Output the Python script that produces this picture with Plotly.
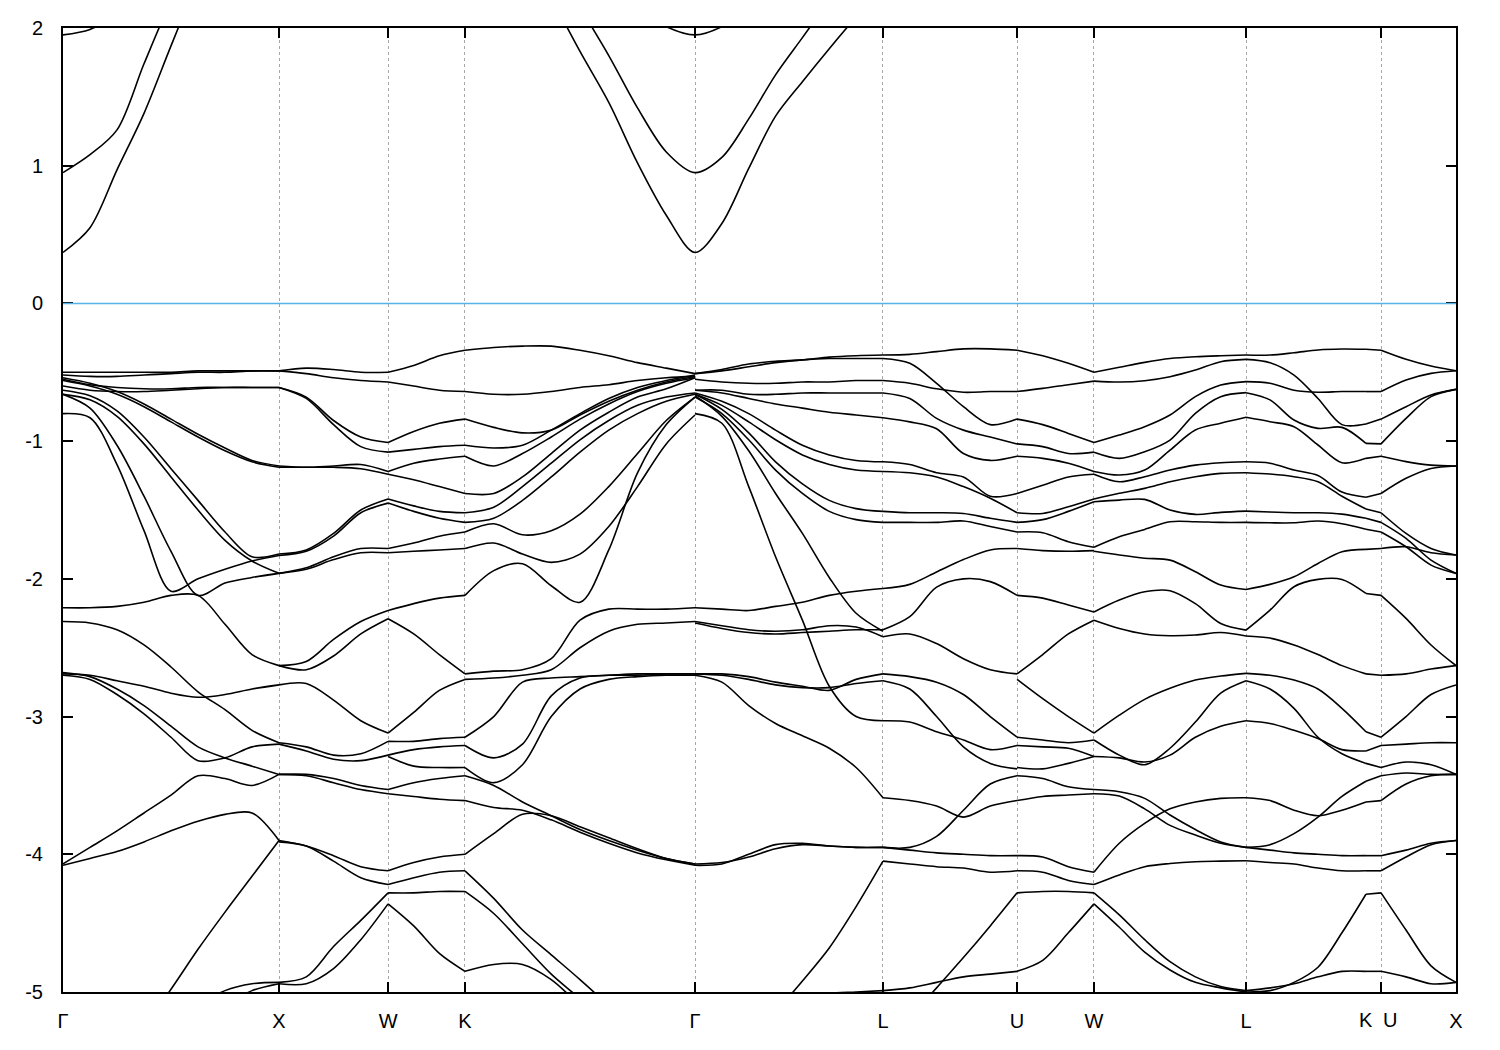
import numpy as np
import plotly.graph_objects as go

# High-symmetry path
LABELS = ["Γ", "X", "W", "K", "Γ", "L", "U", "W", "L", "K", "U", "X"]
K_POS = [0.0, 1.0, 1.505, 1.861, 2.926, 3.796, 4.417, 4.773, 5.477, 6.032, 6.102, 6.449]
# where the K / U labels near the end of the path are printed (they sit side by side)
LABEL_POS = {9: 6.032, 10: 6.144}
NO_TICK = [9]          # the second K label has no tick / grid line of its own
Y_TICKS = [-5, -4, -3, -2, -1, 0, 1, 2]

# Band energies (eV), one list per path segment.
# Each row = energies at equally spaced k-points along that segment.
VB_GX = [
    [-0.50, -0.50, -0.50, -0.50, -0.50, -0.49, -0.49, -0.49, -0.49],
    [-0.52, -0.53, -0.53, -0.52, -0.51, -0.50, -0.50, -0.49, -0.49],
    [-0.55, -0.59, -0.61, -0.62, -0.62, -0.61, -0.61, -0.61, -0.61],
    [-0.60, -0.63, -0.64, -0.64, -0.63, -0.62, -0.61, -0.61, -0.61],
    [-0.54, -0.58, -0.64, -0.73, -0.84, -0.95, -1.05, -1.14, -1.18],
    [-0.56, -0.60, -0.66, -0.75, -0.86, -0.97, -1.07, -1.15, -1.19],
    [-0.63, -0.67, -0.78, -0.97, -1.20, -1.43, -1.66, -1.84, -1.82],
    [-0.66, -0.70, -0.82, -1.02, -1.26, -1.50, -1.72, -1.87, -1.96],
    [-0.80, -0.83, -1.17, -1.65, -2.09, -2.00, -1.93, -1.87, -1.83],
    [-0.66, -0.76, -1.03, -1.40, -1.80, -2.12, -2.03, -1.99, -1.96],
    [-2.21, -2.21, -2.20, -2.17, -2.12, -2.12, -2.33, -2.55, -2.63],
    [-2.31, -2.32, -2.37, -2.48, -2.64, -2.82, -2.95, -3.10, -3.19],
    [-2.69, -2.70, -2.74, -2.78, -2.83, -2.86, -2.84, -2.80, -2.77],
    [-2.70, -2.73, -2.84, -2.98, -3.15, -3.32, -3.30, -3.22, -3.20],
    [-2.68, -2.71, -2.80, -2.92, -3.07, -3.22, -3.30, -3.36, -3.42],
    [-4.07, -3.95, -3.83, -3.70, -3.57, -3.43, -3.45, -3.50, -3.42],
    [-4.08, -4.03, -3.98, -3.91, -3.83, -3.76, -3.71, -3.70, -3.90],
    [-5.80, -5.65, -5.45, -5.25, -4.98, -4.69, -4.42, -4.16, -3.90],
    [-6.00, -5.80, -5.60, -5.40, -5.25, -5.10, -4.99, -4.94, -4.93],
    [-6.10, -5.90, -5.70, -5.50, -5.35, -5.20, -5.10, -4.99, -4.94],
]

VB_XW = [
    [-0.49, -0.47, -0.48, -0.50, -0.50],
    [-0.49, -0.51, -0.54, -0.56, -0.57],
    [-0.61, -0.68, -0.85, -0.97, -1.01],
    [-0.61, -0.69, -0.88, -1.04, -1.08],
    [-1.18, -1.19, -1.18, -1.17, -1.22],
    [-1.19, -1.19, -1.19, -1.20, -1.24],
    [-1.82, -1.79, -1.67, -1.50, -1.42],
    [-1.83, -1.80, -1.69, -1.52, -1.45],
    [-1.96, -1.92, -1.84, -1.78, -1.78],
    [-1.96, -1.93, -1.86, -1.81, -1.81],
    [-2.63, -2.60, -2.44, -2.31, -2.23],
    [-2.63, -2.66, -2.56, -2.40, -2.29],
    [-2.77, -2.76, -2.88, -3.03, -3.12],
    [-3.19, -3.22, -3.28, -3.27, -3.18],
    [-3.20, -3.25, -3.31, -3.32, -3.28],
    [-3.42, -3.42, -3.45, -3.50, -3.53],
    [-3.42, -3.43, -3.48, -3.53, -3.56],
    [-3.90, -3.94, -4.01, -4.09, -4.12],
    [-3.91, -3.94, -4.05, -4.17, -4.22],
    [-4.93, -4.89, -4.67, -4.48, -4.28],
    [-4.94, -4.94, -4.83, -4.62, -4.36],
]

VB_WK = [
    [-0.50, -0.45, -0.38, -0.34],
    [-0.57, -0.60, -0.63, -0.64],
    [-1.01, -0.93, -0.87, -0.84],
    [-1.08, -1.06, -1.04, -1.03],
    [-1.22, -1.16, -1.13, -1.11],
    [-1.24, -1.28, -1.33, -1.38],
    [-1.42, -1.47, -1.51, -1.52],
    [-1.45, -1.51, -1.56, -1.59],
    [-1.78, -1.74, -1.69, -1.66],
    [-1.81, -1.80, -1.79, -1.78],
    [-2.23, -2.18, -2.14, -2.12],
    [-2.29, -2.40, -2.55, -2.69],
    [-3.12, -2.97, -2.81, -2.73],
    [-3.18, -3.18, -3.16, -3.15],
    [-3.28, -3.24, -3.22, -3.21],
    [-3.29, -3.36, -3.37, -3.37],
    [-3.53, -3.48, -3.45, -3.43],
    [-3.56, -3.58, -3.60, -3.61],
    [-4.12, -4.06, -4.02, -4.00],
    [-4.22, -4.17, -4.13, -4.12],
    [-4.28, -4.28, -4.27, -4.27],
    [-4.36, -4.52, -4.72, -4.85],
]

VB_KG = [
    [-0.34, -0.32, -0.31, -0.31, -0.34, -0.38, -0.43, -0.47, -0.51],
    [-0.64, -0.66, -0.66, -0.64, -0.61, -0.59, -0.56, -0.54, -0.53],
    [-0.84, -0.90, -0.94, -0.92, -0.81, -0.71, -0.63, -0.57, -0.53],
    [-1.03, -1.05, -1.03, -0.92, -0.80, -0.69, -0.61, -0.56, -0.52],
    [-1.11, -1.18, -1.09, -0.97, -0.84, -0.73, -0.64, -0.58, -0.54],
    [-1.38, -1.38, -1.26, -1.09, -0.92, -0.79, -0.68, -0.62, -0.54],
    [-1.52, -1.48, -1.33, -1.16, -0.99, -0.85, -0.74, -0.68, -0.65],
    [-1.59, -1.56, -1.43, -1.26, -1.08, -0.92, -0.80, -0.71, -0.66],
    [-1.66, -1.60, -1.68, -1.65, -1.53, -1.33, -1.09, -0.85, -0.68],
    [-1.78, -1.74, -1.82, -1.88, -1.82, -1.62, -1.33, -1.02, -0.81],
    [-2.12, -1.94, -1.89, -2.05, -2.17, -1.79, -1.23, -0.88, -0.68],
    [-2.69, -2.67, -2.66, -2.58, -2.30, -2.22, -2.22, -2.22, -2.21],
    [-2.73, -2.72, -2.70, -2.66, -2.50, -2.38, -2.33, -2.32, -2.31],
    [-3.15, -3.00, -2.75, -2.72, -2.71, -2.70, -2.69, -2.69, -2.69],
    [-3.21, -3.30, -3.20, -2.85, -2.72, -2.70, -2.70, -2.69, -2.69],
    [-3.37, -3.48, -3.35, -3.00, -2.80, -2.73, -2.71, -2.70, -2.70],
    [-3.43, -3.50, -3.62, -3.72, -3.82, -3.90, -3.97, -4.03, -4.07],
    [-3.61, -3.66, -3.68, -3.75, -3.84, -3.92, -3.99, -4.04, -4.08],
    [-4.00, -3.85, -3.71, -3.72, -3.80, -3.88, -3.96, -4.03, -4.07],
    [-4.12, -4.32, -4.55, -4.73, -4.91, -5.10, -5.30, -5.50, -5.60],
    [-4.27, -4.43, -4.65, -4.87, -5.05, -5.25, -5.40, -5.50, -5.60],
    [-4.85, -4.80, -4.80, -4.91, -5.10, -5.30, -5.40, -5.50, -5.60],
]

VB_GL = [
    [-0.51, -0.49, -0.46, -0.43, -0.41, -0.40, -0.40, -0.40],
    [-0.51, -0.48, -0.44, -0.42, -0.41, -0.39, -0.38, -0.375],
    [-0.55, -0.57, -0.58, -0.58, -0.57, -0.57, -0.56, -0.56],
    [-0.63, -0.63, -0.66, -0.66, -0.65, -0.65, -0.65, -0.65],
    [-0.63, -0.65, -0.69, -0.73, -0.76, -0.79, -0.81, -0.83],
    [-0.65, -0.71, -0.80, -0.92, -1.03, -1.10, -1.14, -1.15],
    [-0.66, -0.74, -0.86, -0.99, -1.10, -1.17, -1.21, -1.22],
    [-0.66, -0.77, -0.94, -1.15, -1.31, -1.43, -1.49, -1.51],
    [-0.68, -0.80, -0.99, -1.21, -1.38, -1.51, -1.57, -1.59],
    [-0.67, -0.82, -1.07, -1.38, -1.67, -1.99, -2.25, -2.38],
    [-0.80, -0.87, -1.33, -1.84, -2.30, -2.78, -3.00, -3.03],
    [-2.21, -2.22, -2.23, -2.20, -2.17, -2.12, -2.09, -2.07],
    [-2.31, -2.34, -2.37, -2.38, -2.37, -2.34, -2.35, -2.42],
    [-2.32, -2.36, -2.39, -2.40, -2.39, -2.38, -2.37, -2.37],
    [-2.69, -2.69, -2.71, -2.75, -2.78, -2.81, -2.73, -2.69],
    [-2.69, -2.70, -2.73, -2.77, -2.79, -2.79, -2.76, -2.74],
    [-2.70, -2.75, -2.92, -3.05, -3.14, -3.23, -3.37, -3.59],
    [-4.08, -4.07, -4.00, -3.93, -3.92, -3.94, -3.95, -3.95],
    [-4.07, -4.06, -4.02, -3.96, -3.93, -3.94, -3.95, -3.95],
    [-5.90, -5.70, -5.40, -5.15, -4.92, -4.68, -4.38, -4.05],
    [-5.40, -5.30, -5.20, -5.10, -5.05, -5.01, -5.00, -4.99],
]

VB_LU = [
    [-0.375, -0.37, -0.35, -0.33, -0.33, -0.34],
    [-0.40, -0.435, -0.58, -0.75, -0.88, -0.84],
    [-0.56, -0.58, -0.62, -0.645, -0.64, -0.64],
    [-0.65, -0.69, -0.835, -0.92, -0.97, -1.02],
    [-0.83, -0.86, -0.91, -1.09, -1.14, -1.11],
    [-1.15, -1.17, -1.23, -1.26, -1.40, -1.38],
    [-1.22, -1.23, -1.26, -1.33, -1.415, -1.52],
    [-1.51, -1.52, -1.52, -1.525, -1.56, -1.59],
    [-1.59, -1.59, -1.59, -1.58, -1.62, -1.66],
    [-2.07, -2.04, -1.95, -1.86, -1.79, -1.78],
    [-2.37, -2.275, -2.06, -2.00, -2.02, -2.12],
    [-2.42, -2.40, -2.47, -2.58, -2.66, -2.69],
    [-2.69, -2.71, -2.75, -2.84, -3.00, -3.15],
    [-2.74, -2.80, -3.00, -3.22, -3.34, -3.38],
    [-3.03, -3.04, -3.11, -3.17, -3.24, -3.21],
    [-3.59, -3.61, -3.65, -3.73, -3.65, -3.61],
    [-3.95, -3.95, -3.87, -3.68, -3.49, -3.43],
    [-3.95, -3.97, -3.99, -4.00, -4.01, -4.01],
    [-4.05, -4.07, -4.09, -4.10, -4.13, -4.12],
    [-5.60, -5.20, -4.97, -4.75, -4.52, -4.28],
    [-4.99, -4.97, -4.93, -4.89, -4.87, -4.85],
]

VB_UW = [
    [-0.34, -0.38, -0.435, -0.50],
    [-0.64, -0.617, -0.59, -0.564],
    [-0.84, -0.88, -0.944, -1.01],
    [-1.02, -1.04, -1.09, -1.08],
    [-1.11, -1.125, -1.16, -1.22],
    [-1.38, -1.32, -1.26, -1.24],
    [-1.52, -1.525, -1.476, -1.42],
    [-1.59, -1.57, -1.51, -1.44],
    [-1.66, -1.665, -1.73, -1.77],
    [-1.78, -1.795, -1.80, -1.795],
    [-2.12, -2.14, -2.19, -2.24],
    [-2.69, -2.55, -2.40, -2.30],
    [-2.73, -2.87, -3.00, -3.12],
    [-3.15, -3.17, -3.19, -3.17],
    [-3.21, -3.22, -3.23, -3.29],
    [-3.37, -3.38, -3.34, -3.29],
    [-3.43, -3.45, -3.51, -3.53],
    [-3.61, -3.58, -3.57, -3.56],
    [-4.01, -4.02, -4.09, -4.13],
    [-4.12, -4.13, -4.19, -4.22],
    [-4.28, -4.27, -4.27, -4.28],
    [-4.85, -4.77, -4.57, -4.36],
]

VB_WL = [
    [-0.50, -0.464, -0.428, -0.40, -0.387, -0.38, -0.375],
    [-0.564, -0.571, -0.561, -0.532, -0.484, -0.423, -0.406],
    [-1.01, -0.956, -0.895, -0.81, -0.677, -0.593, -0.568],
    [-1.08, -1.125, -1.077, -0.992, -0.798, -0.677, -0.648],
    [-1.22, -1.246, -1.21, -1.065, -0.919, -0.87, -0.827],
    [-1.24, -1.295, -1.258, -1.21, -1.174, -1.157, -1.15],
    [-1.42, -1.379, -1.343, -1.295, -1.258, -1.234, -1.229],
    [-1.44, -1.428, -1.423, -1.50, -1.532, -1.517, -1.508],
    [-1.77, -1.694, -1.641, -1.585, -1.585, -1.59, -1.59],
    [-1.80, -1.827, -1.85, -1.864, -1.948, -2.045, -2.077],
    [-2.24, -2.154, -2.094, -2.086, -2.18, -2.324, -2.372],
    [-2.30, -2.36, -2.40, -2.413, -2.408, -2.39, -2.415],
    [-3.12, -2.99, -2.875, -2.795, -2.735, -2.706, -2.686],
    [-3.17, -3.28, -3.35, -3.23, -3.04, -2.83, -2.74],
    [-3.29, -3.30, -3.33, -3.28, -3.15, -3.07, -3.03],
    [-3.53, -3.546, -3.594, -3.715, -3.82, -3.91, -3.95],
    [-3.56, -3.577, -3.67, -3.79, -3.86, -3.92, -3.95],
    [-4.13, -3.92, -3.776, -3.67, -3.62, -3.594, -3.59],
    [-4.22, -4.15, -4.09, -4.067, -4.054, -4.05, -4.047],
    [-4.28, -4.44, -4.62, -4.78, -4.89, -4.96, -4.99],
    [-4.36, -4.53, -4.71, -4.84, -4.93, -4.97, -5.00],
]

VB_LK = [
    [-0.375, -0.375, -0.358, -0.338, -0.331, -0.333],
    [-0.406, -0.43, -0.52, -0.69, -0.88, -0.876],
    [-0.568, -0.58, -0.63, -0.645, -0.64, -0.64],
    [-0.648, -0.70, -0.847, -0.907, -0.90, -1.016],
    [-0.827, -0.859, -0.895, -1.028, -1.157, -1.125],
    [-1.15, -1.16, -1.21, -1.25, -1.37, -1.408],
    [-1.229, -1.239, -1.258, -1.295, -1.40, -1.493],
    [-1.508, -1.515, -1.52, -1.52, -1.53, -1.56],
    [-1.59, -1.593, -1.593, -1.58, -1.60, -1.64],
    [-2.077, -2.04, -1.985, -1.888, -1.803, -1.786],
    [-2.372, -2.227, -2.057, -2.004, -2.004, -2.106],
    [-2.415, -2.43, -2.48, -2.55, -2.63, -2.69],
    [-2.686, -2.70, -2.735, -2.80, -2.94, -3.11],
    [-2.74, -2.80, -2.94, -3.15, -3.27, -3.34],
    [-3.03, -3.05, -3.10, -3.16, -3.24, -3.25],
    [-3.59, -3.61, -3.68, -3.72, -3.68, -3.62],
    [-3.95, -3.93, -3.85, -3.73, -3.58, -3.47],
    [-3.95, -3.97, -3.99, -4.00, -4.01, -4.01],
    [-4.047, -4.06, -4.07, -4.10, -4.12, -4.12],
    [-4.99, -4.97, -4.94, -4.89, -4.85, -4.85],
    [-5.00, -4.99, -4.93, -4.82, -4.57, -4.29],
]

VB_KU = [
    [-0.333, -0.34], [-0.876, -0.84], [-0.64, -0.64], [-1.016, -1.02],
    [-1.125, -1.11], [-1.408, -1.38], [-1.493, -1.52], [-1.56, -1.59],
    [-1.64, -1.66], [-1.786, -1.78], [-2.106, -2.12], [-2.69, -2.70],
    [-3.11, -3.15], [-3.34, -3.37], [-3.25, -3.21], [-3.62, -3.61],
    [-3.47, -3.43], [-4.01, -4.01], [-4.12, -4.12], [-4.85, -4.85],
    [-4.29, -4.28],
]

VB_UX = [
    [-0.34, -0.406, -0.455, -0.489],
    [-0.64, -0.556, -0.508, -0.489],
    [-0.84, -0.75, -0.665, -0.624],
    [-1.02, -0.835, -0.677, -0.624],
    [-1.11, -1.149, -1.174, -1.18],
    [-1.38, -1.27, -1.198, -1.18],
    [-1.52, -1.67, -1.779, -1.827],
    [-1.59, -1.706, -1.864, -1.96],
    [-1.66, -1.767, -1.90, -1.96],
    [-1.78, -1.767, -1.81, -1.827],
    [-2.12, -2.287, -2.48, -2.63],
    [-2.70, -2.69, -2.655, -2.63],
    [-3.15, -3.00, -2.84, -2.77],
    [-3.21, -3.20, -3.19, -3.19],
    [-3.37, -3.33, -3.35, -3.42],
    [-3.43, -3.41, -3.42, -3.42],
    [-3.61, -3.49, -3.43, -3.42],
    [-4.01, -3.97, -3.92, -3.90],
    [-4.12, -4.02, -3.93, -3.90],
    [-4.28, -4.55, -4.81, -4.93],
    [-4.85, -4.89, -4.94, -4.93],
]

# Conduction bands (only where they enter the window)
CB_GX = [
    [0.37, 0.55, 0.97, 1.38, 1.87, 2.35, 2.80, 3.20, 3.50],
    [0.95, 1.08, 1.26, 1.74, 2.20, 2.60, 3.00, 3.30, 3.60],
    [1.95, 1.99, 2.10, 2.30, 2.50, 2.70, 2.90, 3.10, 3.30],
]
CB_KG = [
    [3.40, 3.00, 2.60, 2.22, 1.83, 1.46, 1.02, 0.64, 0.37],
    [3.60, 3.30, 2.90, 2.50, 2.15, 1.80, 1.42, 1.10, 0.95],
    [3.40, 3.20, 3.00, 2.80, 2.60, 2.40, 2.15, 2.01, 1.95],
]
CB_GL = [
    [0.37, 0.58, 0.98, 1.36, 1.61, 1.85, 2.08, 2.30],
    [0.95, 1.06, 1.34, 1.66, 1.93, 2.20, 2.45, 2.70],
    [1.95, 2.01, 2.15, 2.30, 2.50, 2.70, 2.90, 3.10],
]

VB_SEGMENTS = [
    (0, VB_GX), (1, VB_XW), (2, VB_WK), (3, VB_KG), (4, VB_GL), (5, VB_LU),
    (6, VB_UW), (7, VB_WL), (8, VB_LK), (9, VB_KU), (10, VB_UX),
]

LINE = dict(color="black", width=1.6, shape="spline", smoothing=0.9)
FONT = dict(family="Liberation Sans, Arial, sans-serif", size=20, color="black")

fig = go.Figure()


def add_band(k, e):
    fig.add_trace(go.Scatter(x=k, y=e, mode="lines", line=LINE,
                             hoverinfo="skip", showlegend=False))


def seg_k(seg, n):
    return np.linspace(K_POS[seg], K_POS[seg + 1], n)


for seg, rows in VB_SEGMENTS:
    for row in rows:
        add_band(seg_k(seg, len(row)), row)

# conduction bands: Γ–X piece, and the continuous K–Γ–L piece
for row in CB_GX:
    add_band(seg_k(0, len(row)), row)
for r_kg, r_gl in zip(CB_KG, CB_GL):
    k = np.concatenate([seg_k(3, len(r_kg)), seg_k(4, len(r_gl))[1:]])
    add_band(k, list(r_kg) + list(r_gl[1:]))

fig.add_hline(y=0, line=dict(color="#56b4e9", width=1.6))

tick_idx = [i for i in range(len(K_POS)) if i not in NO_TICK]
fig.update_layout(
    width=1500, height=1050,
    margin=dict(l=63, r=44, t=28, b=58),
    paper_bgcolor="white", plot_bgcolor="white",
    showlegend=False, font=FONT,
)
fig.update_xaxes(
    range=[K_POS[0], K_POS[-1]],
    tickvals=[K_POS[i] for i in tick_idx],
    ticktext=["" if i in LABEL_POS else LABELS[i] for i in tick_idx],
    tickangle=0,
    ticks="inside", ticklen=10, tickwidth=1.5, tickcolor="black",
    showline=True, linewidth=2, linecolor="black", mirror="ticks",
    showgrid=True, gridcolor="#a8a8a8", gridwidth=1, griddash="3px,3px",
    zeroline=False, ticklabelstandoff=10,
)
fig.update_yaxes(
    range=[-5, 2], tickvals=Y_TICKS, ticktext=[str(v) for v in Y_TICKS],
    ticks="inside", ticklen=10, tickwidth=1.5, tickcolor="black",
    showline=True, linewidth=2, linecolor="black", mirror="ticks",
    showgrid=False, zeroline=False, ticklabelstandoff=14,
)
for i, xpos in LABEL_POS.items():
    fig.add_annotation(x=xpos, y=0, xref="x", yref="paper",
                       text=LABELS[i], showarrow=False,
                       yanchor="top", yshift=-15, font=FONT)

fig.write_html("out.html", post_script="document.body.style.margin='0';",
               config={"displayModeBar": False})
